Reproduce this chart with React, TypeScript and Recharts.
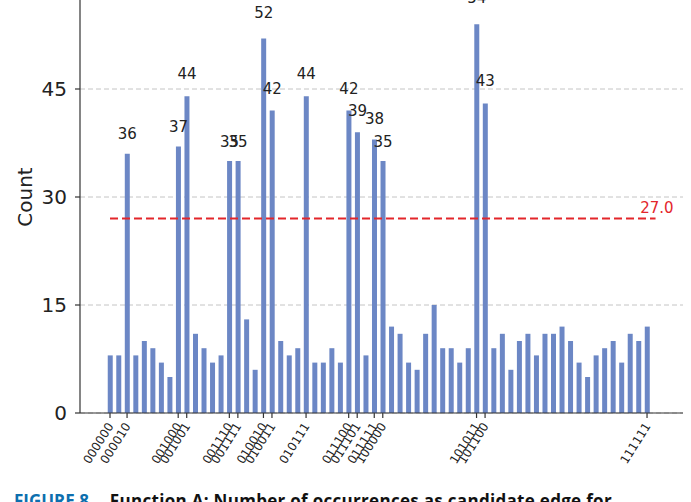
import React from 'react';
import { BarChart, Bar, XAxis, YAxis, CartesianGrid, ReferenceLine, LabelList } from 'recharts';

// all 6-bit codes, 000000 .. 111111
const CODES = Array.from({ length: 64 }, (_, i) => i.toString(2).padStart(6, '0'));

const COUNTS = [
  8, 8, 36, 8, 10, 9, 7, 5, 37, 44, 11, 9, 7, 8, 35, 35,
  13, 6, 52, 42, 10, 8, 9, 44, 7, 7, 9, 7, 42, 39, 8, 38,
  35, 12, 11, 7, 6, 11, 15, 9, 9, 7, 9, 54, 43, 9, 11, 6,
  10, 11, 8, 11, 11, 12, 10, 7, 5, 8, 9, 10, 7, 11, 10, 12,
];

const TICK_CODES = [
  '000000', '000010', '001000', '001001', '001110', '001111', '010010', '010011',
  '010111', '011100', '011101', '011111', '100000', '101011', '101100', '111111',
];

const Y_TICKS = [0, 15, 30, 45, 60];
const THRESHOLD = 27.0;

const data = CODES.map((code, i) => ({ idx: i, code, count: COUNTS[i] }));
const tickIdx = TICK_CODES.map((c) => CODES.indexOf(c));

const FONT = 'DejaVu Sans, sans-serif';
const AXIS = '#333';

const CodeTick = ({ x, y, payload }: any) => {
  const ax = x + 4;
  const ay = y + 6;
  return (
    <text
      x={ax}
      y={ay}
      transform={`rotate(-58, ${ax}, ${ay})`}
      textAnchor="end"
      fontSize={12}
      fill="#222"
      fontFamily={FONT}
    >
      {CODES[payload.value]}
    </text>
  );
};

// value labels sit at 1.05 * value + 1 (data units) above peaks over the threshold
const PeakLabel = ({ x, y, width, height, value }: any) => {
  if (value <= THRESHOLD) return null;
  const unit = height / value;
  const cy = y - unit * (0.05 * value + 1);
  return (
    <text x={x + width / 2} y={cy + 5.5} textAnchor="middle" fontSize={15} fill="#222" fontFamily={FONT}>
      {value}
    </text>
  );
};

const ThresholdLabel = ({ viewBox }: any) => (
  <text
    x={viewBox.x + viewBox.width + 18}
    y={viewBox.y - 6}
    textAnchor="end"
    fontSize={15}
    fill="#e3262b"
    fontFamily={FONT}
  >
    {THRESHOLD.toFixed(1)}
  </text>
);

const CountLabel = ({ viewBox }: any) => {
  const cx = 25;
  const cy = viewBox.y + viewBox.height / 2;
  return (
    <text
      x={cx}
      y={cy}
      transform={`rotate(-90, ${cx}, ${cy})`}
      textAnchor="middle"
      dominantBaseline="central"
      fontSize={20}
      fill="#222"
      fontFamily={FONT}
    >
      Count
    </text>
  );
};

export default function App() {
  return (
    <div style={{ position: 'fixed', left: 0, top: 0, width: 691, height: 502, overflow: 'hidden', background: '#fff' }}>
      <div style={{ position: 'absolute', left: 0, top: -40 }}>
        <BarChart
          width={691}
          height={523}
          data={data}
          margin={{ top: 21, right: 8, left: 0, bottom: 0 }}
          style={{ fontFamily: FONT }}
        >
          <CartesianGrid vertical={false} stroke="#c4c4c4" strokeDasharray="5 3" />
          <XAxis
            type="number"
            dataKey="idx"
            domain={[-3.52, 67.22]}
            allowDataOverflow
            ticks={tickIdx}
            interval={0}
            tick={<CodeTick />}
            tickSize={5}
            tickLine={{ stroke: AXIS, strokeWidth: 1.2 }}
            axisLine={{ stroke: AXIS, strokeWidth: 1.2 }}
            height={70}
          />
          <YAxis
            domain={[0, 60]}
            ticks={Y_TICKS}
            interval={0}
            width={80}
            tickSize={5}
            tickMargin={8}
            tick={{ fontSize: 20, fill: '#222', fontFamily: FONT }}
            tickLine={{ stroke: AXIS, strokeWidth: 1.2 }}
            axisLine={{ stroke: AXIS, strokeWidth: 1.2 }}
            label={<CountLabel />}
          />
          <YAxis
            yAxisId="frame"
            orientation="right"
            width={0}
            tick={false}
            tickLine={false}
            axisLine={{ stroke: AXIS, strokeWidth: 1.2 }}
          />
          <Bar dataKey="count" fill="#6c87c5" barSize={5} isAnimationActive={false}>
            <LabelList dataKey="count" content={<PeakLabel />} />
          </Bar>
          <ReferenceLine
            segment={[{ x: 0, y: THRESHOLD }, { x: 64, y: THRESHOLD }]}
            stroke="#e3262b"
            strokeWidth={2}
            strokeDasharray="8 4"
            label={<ThresholdLabel />}
          />
        </BarChart>
      </div>
      <div
        style={{
          position: 'absolute',
          left: 14,
          top: 489,
          whiteSpace: 'nowrap',
          fontFamily: '"Open Sans", sans-serif',
          fontWeight: 700,
          fontSize: 17,
          lineHeight: '24px',
          color: '#111',
        }}
      >
        <span style={{ color: '#0d6fae' }}>FIGURE 8.</span>
        <span style={{ marginLeft: 16, letterSpacing: 0.3 }}>Function A: Number of occurrences as candidate edge for</span>
      </div>
    </div>
  );
}
